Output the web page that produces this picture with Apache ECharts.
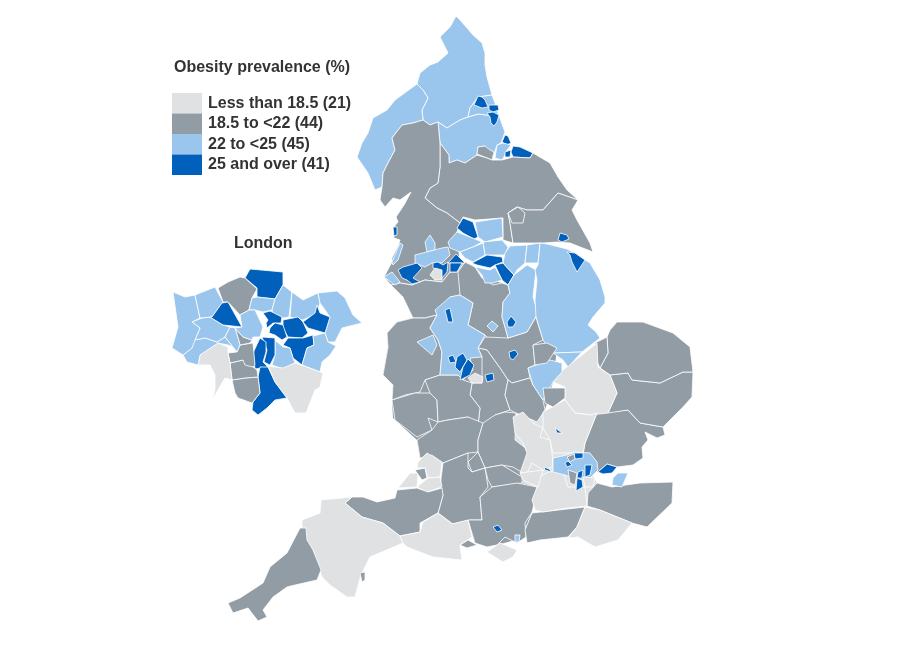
<![CDATA[<!DOCTYPE html>
<html>
<head>
<meta charset="utf-8">
<title>Obesity prevalence</title>
<style>
  html, body { margin: 0; padding: 0; background: #fff; }
  #chart { width: 899px; height: 653px; }
</style>
<script src="https://cdn.jsdelivr.net/npm/echarts@6/dist/echarts.min.js"></script>
</head>
<body>
<div id="chart"></div>
<script>
const legendLabels = ['Less than 18.5 (21)', '18.5 to <22 (44)', '22 to <25 (45)', '25 and over (41)'];
const bandLimits = [18.5, 22, 25];
const bandColors = ['#dfe1e3', '#929ca4', '#9ac5ec', '#0060bc'];

// area names, painted in this order (later ones sit on top of earlier ones)
const areaNames = [
  'Midlands', 'Home Counties',
  'Northumberland', 'Cumbria', 'County Durham', 'Tyneside', 'Newcastle', 'North Tyneside', 'Gateshead',
  'Hartlepool', 'Stockton', 'Darlington', 'Middlesbrough', 'Redcar', 'North Yorkshire', 'East Riding', 'Hull', 'York',
  'Lancashire', 'Cheshire', 'Derbyshire', 'Leicestershire', 'Warwickshire', 'Northamptonshire', 'Shropshire',
  'Herefordshire', 'Worcestershire', 'Gloucestershire', 'Oxfordshire', 'Swindon', 'Wiltshire', 'Berkshire', 'Hampshire',
  'West Sussex', 'Kent', 'Essex', 'Suffolk', 'Norfolk', 'Fenland', 'Cambridgeshire', 'Hertfordshire', 'Buckinghamshire',
  'Surrey', 'Slough area', 'East Sussex', 'Isle of Wight', 'Greater London', 'Medway', 'Thurrock',
  'Enfield inset', 'Barnet inset', 'Brent inset', 'Inner east', 'Inner south', 'Croydon inset', 'South west', 'Bromley inset',
  'Slough', 'Luton', 'Southampton', 'Portsmouth', 'Bournemouth',
  'North Somerset', 'Bristol', 'South Gloucestershire', 'Bath', 'Somerset', 'Devon', 'Dorset', 'Cornwall', 'Torbay',
  'Blackpool', 'Sefton', 'Blackburn', 'Bradford', 'Leeds', 'Calderdale', 'Wakefield', 'Kirklees', 'Greater Manchester',
  'Oldham', 'Barnsley', 'Doncaster', 'Rotherham', 'Manchester', 'Stockport', 'Tameside', 'Merseyside', 'Wirral',
  'North Lincolnshire', 'North East Lincolnshire', 'Nottinghamshire', 'Nottingham', 'Lincolnshire', 'Grimsby', 'Peterborough', 'Huntingdon',
  'Staffordshire', 'Stoke', 'Sandwell', 'Birmingham', 'Dudley', 'Solihull', 'Coventry', 'Telford', 'Leicester', 'Derby', 'Rutland', 'Bedford',
  // London inset
  'L Enfield', 'L Barnet', 'L Haringey', 'L Waltham Forest', 'L Redbridge', 'L Havering', 'L Barking', 'L Newham', 'L Hackney',
  'L Tower Hamlets', 'L Greenwich', 'L Bexley', 'L Lewisham', 'L Southwark', 'L Lambeth', 'L Croydon', 'L Bromley', 'L Sutton',
  'L Merton', 'L Wandsworth', 'L Hammersmith', 'L Kingston', 'L Richmond', 'L Hounslow', 'L Hillingdon', 'L Harrow', 'L Brent',
  'L Camden', 'L Ealing'
];
const areaValues = [
  20.5, 17.8,
  23.5, 23.2, 24.1, 24.4, 26.0, 25.8, 26.2,
  26.8, 24.6, 21.4, 27.2, 26.3, 20.8, 20.6, 26.9, 20.2,
  21.0, 20.4, 21.2, 20.9, 20.1, 21.5, 21.3,
  20.7, 20.5, 19.8, 19.2, 20.3, 19.9, 19.1, 19.5,
  19.4, 21.1, 21.6, 20.2, 20.9, 21.2, 17.6, 17.9, 17.4,
  17.1, 17.7, 17.8, 18.1, 23.4, 23.8, 26.4,
  25.4, 20.6, 25.7, 26.1, 25.6, 25.9, 20.4, 17.9,
  27.1, 25.5, 26.2, 23.3, 20.3,
  18.0, 20.5, 17.5, 17.2, 20.7, 17.3, 17.6, 21.0, 20.8,
  27.5, 23.1, 24.3, 27.0, 24.2, 23.9, 24.5, 24.0, 23.6,
  26.6, 26.4, 26.5, 24.7, 26.3, 17.9, 25.6, 26.7, 23.7,
  24.1, 23.8, 23.9, 26.0, 24.4, 26.3, 23.2, 23.6,
  24.2, 27.3, 27.4, 27.0, 26.6, 18.2, 26.5, 23.4, 26.1, 23.7, 21.0, 21.3,
  26.0, 20.7, 23.2, 24.0, 23.5, 23.8, 26.9, 28.0, 25.6,
  27.2, 26.3, 23.6, 24.3, 26.7, 26.1, 25.3, 17.8, 20.2,
  20.0, 19.8, 19.6, 17.4, 23.0, 24.2, 24.5, 23.3, 25.7,
  22.6, 22.8
];
// outlines in map units, same order as areaNames
const areaOutlines = [
  [[391,285],[412,285],[442,282],[450,272],[465,262],[482,278],[502,283],[510,293],[536,317],[543,340],[557,348],[553,382],[545,410],[537,422],[516,413],[515,440],[528,450],[528,470],[522,483],[537,487],[532,512],[525,530],[526,537],[497,545],[475,543],[468,520],[452,524],[438,513],[443,495],[440,487],[443,463],[420,458],[417,440],[393,418],[392,400],[393,385],[383,375],[388,347],[387,333],[397,322],[413,318],[403,297]],
  [[543,412],[565,400],[575,413],[597,413],[585,443],[583,455],[590,470],[597,483],[588,493],[587,506],[543,512],[532,500],[537,487],[522,483],[528,470],[528,450],[515,440],[513,417],[523,412]],
  [[456,16],[460,20],[467,28],[473,35],[482,43],[485,53],[485,65],[487,77],[492,95],[478,97],[470,108],[468,117],[460,120],[447,128],[438,122],[430,125],[423,120],[422,110],[428,98],[423,90],[417,84],[420,73],[430,65],[438,62],[448,53],[440,37],[450,27]],
  [[417,84],[423,90],[428,98],[422,110],[423,120],[413,123],[402,125],[392,138],[395,150],[388,163],[383,173],[382,187],[375,190],[368,173],[357,157],[362,143],[368,133],[373,118],[387,110],[395,100]],
  [[438,122],[447,128],[460,120],[468,117],[478,114],[495,116],[498,113],[505,132],[501,143],[497,145],[493,157],[485,146],[478,147],[477,155],[465,163],[457,160],[449,163],[449,155],[440,143]],
  [[478,97],[492,95],[495,103],[498,113],[495,116],[478,114],[468,117],[470,108]],
  [[478,96],[482,97],[485,100],[488,107],[482,108],[474,105]],
  [[489,105],[498,105],[499,110],[493,112],[489,110]],
  [[487,113],[493,112],[499,115],[497,122],[494,126],[491,123],[490,117]],
  [[502,142],[505,135],[508,136],[511,143],[507,145]],
  [[497,145],[503,143],[511,145],[507,150],[504,157],[502,160],[495,158]],
  [[477,154],[478,147],[485,146],[490,150],[494,152],[492,160],[487,158]],
  [[505,152],[511,150],[510,157],[505,157]],
  [[513,146],[520,147],[533,153],[530,158],[513,157],[511,152]],
  [[440,143],[449,155],[449,163],[457,160],[465,163],[477,155],[487,158],[492,160],[502,160],[513,157],[530,158],[533,153],[550,163],[558,177],[567,190],[578,200],[558,193],[543,210],[527,210],[517,207],[508,213],[510,223],[513,243],[503,240],[503,218],[475,220],[463,217],[460,223],[447,213],[437,208],[425,198],[430,188],[438,183],[440,167]],
  [[578,200],[572,210],[577,220],[590,243],[593,252],[570,243],[557,242],[543,243],[533,243],[513,243],[510,223],[508,213],[517,207],[527,210],[543,210],[558,193]],
  [[558,240],[560,233],[567,235],[569,239],[562,242]],
  [[508,213],[518,207],[525,213],[523,223],[512,223]],
  [[402,125],[413,123],[423,120],[430,125],[438,122],[440,143],[440,167],[438,183],[430,188],[425,198],[437,208],[447,213],[460,223],[457,232],[460,262],[450,272],[442,282],[425,280],[412,285],[400,283],[391,285],[384,277],[392,262],[392,258],[398,246],[400,240],[394,238],[393,228],[398,222],[396,217],[404,205],[411,192],[400,200],[393,198],[385,207],[380,200],[382,187],[383,173],[388,163],[395,150],[392,138]],
  [[391,285],[400,283],[412,285],[425,280],[442,282],[450,272],[457,272],[465,262],[472,265],[482,280],[473,303],[460,295],[450,297],[437,315],[425,318],[413,318],[403,297]],
  [[458,272],[465,262],[475,267],[482,278],[493,285],[502,283],[508,285],[510,293],[503,302],[502,317],[505,327],[508,338],[495,345],[485,335],[468,325],[473,303],[460,295]],
  [[485,337],[508,338],[527,332],[536,317],[543,340],[533,345],[535,365],[528,368],[530,378],[512,383],[508,380],[500,368],[487,350],[478,348]],
  [[482,357],[478,348],[487,350],[500,368],[508,380],[505,395],[510,410],[495,415],[488,425],[478,425],[480,408],[470,395],[472,383],[482,383]],
  [[508,380],[512,383],[530,378],[533,385],[543,400],[545,410],[537,422],[528,418],[516,413],[510,410],[505,395]],
  [[413,318],[425,318],[437,315],[430,328],[438,340],[442,352],[440,375],[425,380],[420,392],[405,395],[392,400],[393,385],[383,375],[388,347],[387,333],[397,322]],
  [[392,400],[415,393],[430,393],[437,400],[438,422],[428,418],[432,430],[417,437],[395,420]],
  [[437,400],[430,393],[425,380],[440,375],[458,375],[463,380],[472,383],[470,395],[480,408],[478,425],[468,417],[448,420],[438,422]],
  [[438,422],[448,420],[468,417],[483,423],[478,440],[478,452],[468,453],[443,463],[432,455],[420,458],[417,440],[432,430]],
  [[483,423],[495,415],[505,412],[516,413],[515,440],[528,450],[528,470],[523,473],[513,467],[502,465],[485,468],[478,452],[478,440]],
  [[468,462],[478,452],[485,468],[472,472]],
  [[443,463],[468,453],[468,468],[472,472],[485,468],[488,487],[480,497],[482,520],[470,520],[453,524],[438,513],[443,495],[440,487]],
  [[485,468],[502,465],[522,477],[522,483],[492,487],[488,480]],
  [[480,497],[492,487],[517,483],[537,487],[535,500],[532,512],[525,523],[526,537],[517,543],[505,537],[497,545],[487,547],[475,543],[468,520],[482,520]],
  [[525,530],[532,513],[585,507],[577,527],[568,537],[540,540],[527,543]],
  [[588,493],[597,483],[612,487],[640,483],[673,482],[672,503],[647,527],[632,523],[600,510],[587,506]],
  [[585,443],[597,413],[608,412],[628,410],[640,423],[663,427],[665,435],[657,438],[645,432],[648,440],[642,447],[643,458],[633,465],[617,467],[607,464],[598,472],[590,470],[583,455]],
  [[610,375],[628,373],[632,380],[660,383],[683,372],[693,372],[692,397],[683,407],[673,417],[663,427],[640,423],[628,410],[608,413],[617,393]],
  [[610,330],[617,322],[643,322],[673,333],[690,347],[693,372],[683,372],[660,383],[632,380],[628,373],[610,375],[600,368],[608,353],[607,337]],
  [[595,343],[607,337],[608,353],[600,368],[595,357]],
  [[553,382],[563,370],[582,355],[597,343],[598,367],[610,375],[617,393],[608,413],[590,415],[575,413],[565,400],[565,387]],
  [[543,412],[565,400],[575,413],[590,415],[597,413],[585,443],[583,453],[553,453],[550,440],[543,428]],
  [[513,417],[523,412],[533,423],[543,428],[540,437],[550,440],[552,453],[553,467],[543,470],[532,463],[527,473],[520,473],[527,453],[523,443],[515,433]],
  [[532,500],[537,487],[538,477],[553,470],[563,472],[568,487],[585,487],[587,506],[567,508],[543,512],[535,510]],
  [[520,473],[543,470],[538,487],[523,480]],
  [[585,507],[600,510],[632,523],[618,540],[595,547],[578,537],[568,538],[577,527]],
  [[487,552],[500,543],[517,550],[513,557],[503,562]],
  [[553,458],[567,455],[575,452],[590,453],[597,462],[598,470],[590,478],[578,480],[565,475],[553,472]],
  [[613,478],[618,473],[628,473],[625,480],[622,487],[612,485]],
  [[598,472],[607,464],[617,467],[612,473],[603,474]],
  [[574,453],[583,453],[583,458],[575,459]],
  [[567,457],[574,454],[575,459],[570,462]],
  [[565,463],[568,461],[572,465],[567,467]],
  [[585,465],[592,465],[590,475],[585,477]],
  [[578,472],[583,470],[582,478],[577,478]],
  [[577,478],[582,480],[583,487],[576,491]],
  [[568,470],[577,473],[575,485],[570,483]],
  [[583,477],[595,478],[593,487],[585,487]],
  [[544,467],[549,469],[552,472],[545,470]],
  [[555,428],[558,430],[562,433],[557,433]],
  [[493,527],[498,525],[502,530],[497,532]],
  [[515,535],[520,535],[519,542],[515,542]],
  [[460,545],[468,540],[477,545],[467,548]],
  [[398,488],[410,473],[418,473],[417,487]],
  [[415,470],[425,468],[427,478],[422,480]],
  [[418,462],[427,453],[442,462],[440,477],[428,478],[425,468],[417,468]],
  [[417,487],[428,478],[440,477],[442,487],[427,492]],
  [[345,503],[352,497],[363,497],[377,502],[395,498],[397,490],[417,488],[428,492],[442,488],[443,495],[438,513],[420,523],[420,532],[400,536],[383,523],[362,517]],
  [[321,500],[352,497],[345,503],[362,517],[383,523],[400,536],[403,543],[370,557],[365,567],[360,578],[355,597],[347,597],[330,585],[322,577],[313,550],[302,537],[302,520],[320,513]],
  [[403,543],[400,536],[420,532],[423,522],[438,513],[452,524],[468,520],[472,537],[460,545],[462,560],[433,557],[407,547]],
  [[300,528],[306,528],[307,540],[313,550],[321,570],[317,580],[295,585],[287,587],[273,597],[263,610],[267,617],[258,621],[248,608],[233,613],[228,603],[240,598],[263,583],[270,567],[287,553]],
  [[360,573],[365,572],[365,580],[362,582]],
  [[393,227],[397,227],[397,235],[394,236]],
  [[392,262],[397,250],[400,243],[403,245],[398,260],[393,265]],
  [[425,242],[430,235],[435,243],[435,250],[427,252]],
  [[457,228],[463,218],[473,222],[478,237],[474,239],[463,233]],
  [[475,222],[502,218],[503,237],[485,242],[478,237]],
  [[448,242],[457,232],[475,239],[482,242],[473,247],[460,252],[450,248]],
  [[483,242],[502,240],[508,247],[505,255],[485,255]],
  [[460,252],[473,247],[483,243],[485,255],[473,262],[465,258]],
  [[415,255],[442,248],[448,247],[450,255],[442,263],[432,263],[425,267],[415,263]],
  [[448,263],[456,254],[465,263],[458,263]],
  [[472,263],[487,255],[502,257],[503,262],[495,265],[490,268],[477,265]],
  [[495,265],[503,263],[514,275],[508,285],[502,280]],
  [[475,267],[490,270],[495,267],[502,280],[493,283],[485,283],[482,275]],
  [[433,263],[438,262],[443,265],[448,262],[447,272],[442,278],[438,270],[433,268]],
  [[430,275],[435,268],[442,270],[442,280],[435,280]],
  [[450,263],[458,263],[462,263],[457,272],[450,272]],
  [[398,270],[403,267],[410,265],[417,263],[422,268],[413,278],[420,282],[412,284],[407,280],[402,278]],
  [[384,277],[392,272],[400,282],[395,285]],
  [[505,253],[510,246],[527,245],[525,263],[517,270],[514,275],[503,263]],
  [[527,245],[540,243],[538,263],[525,263]],
  [[514,275],[527,265],[536,270],[533,297],[538,313],[527,332],[508,338],[505,327],[502,317],[503,302],[510,293],[508,285]],
  [[507,322],[511,316],[516,322],[513,327],[508,327]],
  [[540,243],[547,244],[567,249],[575,253],[585,260],[590,263],[600,280],[605,297],[605,303],[593,317],[588,325],[596,332],[600,338],[582,352],[553,353],[543,340],[536,317],[535,300],[537,280],[535,270],[538,265]],
  [[567,252],[575,253],[585,260],[577,272],[572,262],[570,255]],
  [[553,353],[582,352],[568,367],[563,360]],
  [[528,368],[550,360],[562,363],[562,372],[553,382],[543,400],[533,385]],
  [[435,310],[450,297],[460,295],[473,303],[468,325],[485,335],[478,348],[482,357],[470,358],[473,370],[463,380],[458,375],[440,375],[442,352],[438,340],[430,328],[437,315]],
  [[445,310],[450,308],[453,322],[448,322]],
  [[448,357],[453,355],[456,362],[450,363]],
  [[457,357],[463,353],[467,360],[460,372],[455,367]],
  [[463,367],[468,359],[474,365],[470,375],[460,380]],
  [[468,378],[475,373],[483,377],[482,383],[472,383]],
  [[485,375],[493,373],[494,380],[487,382]],
  [[417,342],[433,335],[437,345],[432,355]],
  [[509,352],[515,350],[518,354],[513,360],[510,358]],
  [[487,326],[492,321],[498,326],[493,332]],
  [[533,345],[547,343],[557,348],[547,363],[535,365]],
  [[543,388],[565,388],[565,398],[553,407],[545,403]],
  // London inset
  [[250,269],[283,272],[283,285],[275,299],[257,297],[257,288],[245,278]],
  [[218,288],[228,282],[240,277],[245,278],[257,289],[252,298],[249,310],[240,315],[228,302],[223,302]],
  [[257,297],[275,299],[272,310],[263,312],[255,310],[249,310],[252,298]],
  [[283,285],[292,292],[289,317],[283,318],[273,313],[272,310],[275,299]],
  [[292,292],[303,300],[318,293],[320,303],[317,313],[303,320],[290,317]],
  [[318,293],[337,291],[345,298],[353,315],[362,323],[342,328],[335,342],[328,342],[325,333],[330,317],[320,303]],
  [[317,305],[320,313],[330,317],[325,333],[308,328],[303,322],[315,313]],
  [[283,320],[298,317],[303,322],[308,333],[302,338],[288,337],[283,328]],
  [[263,313],[270,311],[282,317],[281,323],[273,323],[267,328],[266,323],[268,320]],
  [[270,328],[275,323],[283,325],[287,337],[282,340],[275,335],[269,333]],
  [[283,345],[288,338],[303,338],[313,335],[314,345],[307,348],[302,365],[293,358],[290,348]],
  [[313,336],[325,333],[328,342],[336,346],[330,355],[322,362],[320,372],[307,367],[302,365],[307,348],[314,345]],
  [[275,340],[283,347],[290,348],[293,358],[295,363],[283,369],[272,365],[275,355]],
  [[262,337],[275,338],[275,355],[270,365],[264,362],[267,350]],
  [[260,338],[266,342],[266,352],[263,362],[268,367],[255,369],[253,353]],
  [[260,367],[268,367],[275,382],[287,398],[275,400],[267,408],[258,415],[252,410],[253,402],[260,393],[258,377]],
  [[268,366],[283,368],[295,363],[307,367],[323,373],[320,387],[315,390],[306,413],[295,413],[287,398],[275,382]],
  [[232,380],[245,378],[258,377],[260,393],[252,403],[238,398],[235,393]],
  [[230,363],[243,360],[253,367],[257,370],[258,377],[245,378],[232,380]],
  [[228,353],[237,352],[240,345],[253,343],[255,365],[253,367],[245,365],[243,360],[230,363]],
  [[235,328],[243,337],[252,340],[250,343],[240,345],[238,338]],
  [[200,355],[218,343],[228,347],[228,353],[230,363],[232,380],[225,378],[212,400],[215,390],[215,375],[210,365],[198,365]],
  [[183,355],[192,348],[193,340],[205,338],[217,342],[225,337],[233,347],[228,345],[218,343],[200,355],[198,365],[187,362]],
  [[192,322],[202,318],[210,317],[223,325],[230,327],[225,337],[217,342],[205,338],[195,340],[200,328]],
  [[173,292],[185,297],[195,295],[200,318],[192,322],[200,328],[195,340],[192,348],[183,355],[172,348],[178,327]],
  [[195,295],[215,287],[223,302],[212,317],[200,318]],
  [[212,317],[222,303],[228,302],[242,327],[223,325],[210,317]],
  [[240,315],[249,310],[255,310],[263,327],[260,337],[253,337],[252,340],[243,337],[235,328],[242,327]],
  [[230,327],[235,328],[238,338],[240,345],[237,352],[233,347],[225,337]]
];

const features = areaNames.map((name, i) => ({
  type: 'Feature',
  properties: { name },
  geometry: { type: 'Polygon', coordinates: [areaOutlines[i].concat([areaOutlines[i][0]])] }
}));
echarts.registerMap('england', { type: 'FeatureCollection', features });

const chart = echarts.init(document.getElementById('chart'));
const boldText = { fontFamily: '"Liberation Sans", Arial, sans-serif', fontSize: 16, fontWeight: 'bold', color: '#333' };

chart.setOption({
  animation: false,
  backgroundColor: '#fff',
  title: [
    { text: 'Obesity prevalence (%)', left: 174, top: 60, padding: 0, textStyle: boldText },
    { text: 'London', left: 234, top: 236, padding: 0, textStyle: boldText }
  ],
  visualMap: {
    type: 'piecewise',
    left: 172,
    top: 93,
    orient: 'vertical',
    inverse: true,
    padding: 0,
    itemWidth: 30,
    itemHeight: 20.5,
    itemGap: 0,
    textGap: 6,
    itemSymbol: 'rect',
    selectedMode: false,
    textStyle: boldText,
    pieces: [
      { lt: bandLimits[0], label: legendLabels[0], color: bandColors[0] },
      { gte: bandLimits[0], lt: bandLimits[1], label: legendLabels[1], color: bandColors[1] },
      { gte: bandLimits[1], lt: bandLimits[2], label: legendLabels[2], color: bandColors[2] },
      { gte: bandLimits[2], label: legendLabels[3], color: bandColors[3] }
    ]
  },
  geo: {
    map: 'england',
    projection: { project: p => p, unproject: p => p },
    boundingCoords: [[0, 0], [899, 653]],
    aspectScale: 1,
    left: 0,
    top: 0,
    width: 899,
    height: 653,
    silent: true,
    itemStyle: { borderColor: '#fff', borderWidth: 0.8, areaColor: bandColors[1] },
    // the two fill areas under the counties carry no boundary of their own
    regions: [
      { name: 'Midlands', itemStyle: { borderWidth: 0 } },
      { name: 'Home Counties', itemStyle: { borderWidth: 0 } }
    ]
  },
  series: [{
    type: 'map',
    geoIndex: 0,
    data: areaNames.map((name, i) => ({ name, value: areaValues[i] }))
  }]
});
</script>
</body>
</html>
]]>
